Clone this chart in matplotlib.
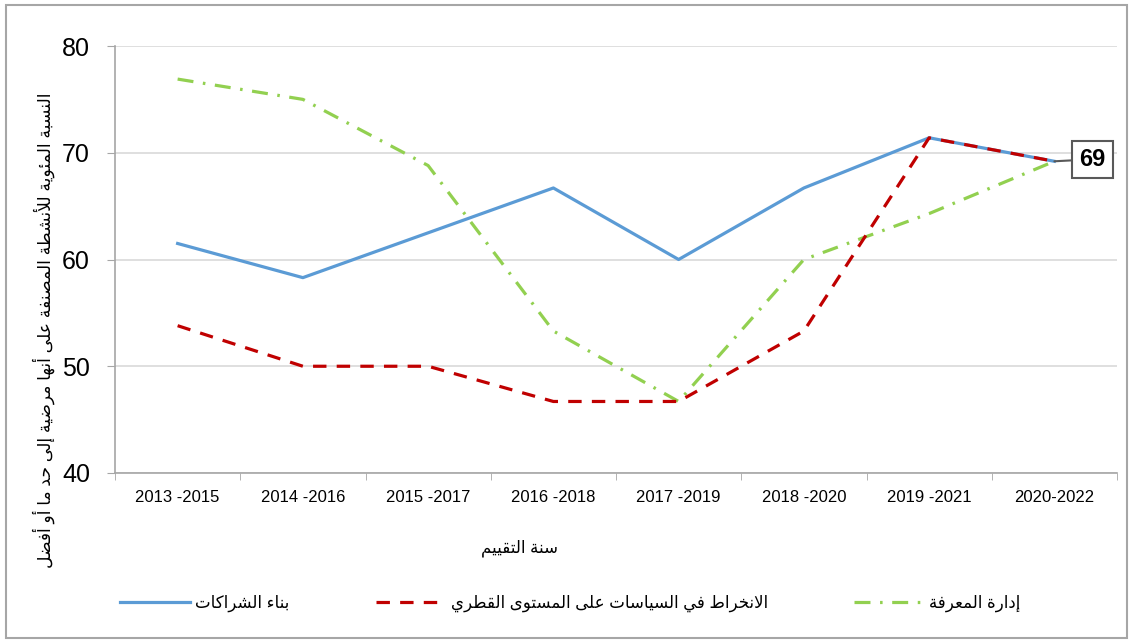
import matplotlib
matplotlib.use("Agg")
import matplotlib.pyplot as plt
import numpy as np

# Data
periods = ["2013 -2015", "2014 -2016", "2015 -2017", "2016 -2018",
           "2017 -2019", "2018 -2020", "2019 -2021", "2020-2022"]
partnerships = [61.5, 58.3, 62.5, 66.7, 60.0, 66.7, 71.4, 69.2]
policy = [53.8, 50.0, 50.0, 46.7, 46.7, 53.3, 71.4, 69.2]
knowledge = [76.9, 75.0, 68.8, 53.3, 46.7, 60.0, 64.3, 69.2]
series_names = ["بناء الشراكات",
                "الانخراط في السياسات على المستوى القطري",
                "إدارة المعرفة"]
y_title = "النسبة المئوية للأنشطة المصنفة على أنها مرضية إلى حد ما أو أفضل"
x_title = "سنة التقييم"
last_label = "69"

FONT = ["Liberation Sans", "DejaVu Sans"]

# matplotlib has no Arabic shaping: map letters to presentation forms and reverse
_FORMS = {
    "\u0621": (0xFE80, 1), "\u0622": (0xFE81, 2), "\u0623": (0xFE83, 2),
    "\u0624": (0xFE85, 2), "\u0625": (0xFE87, 2), "\u0626": (0xFE89, 4),
    "\u0627": (0xFE8D, 2), "\u0628": (0xFE8F, 4), "\u0629": (0xFE93, 2),
    "\u062A": (0xFE95, 4), "\u062B": (0xFE99, 4), "\u062C": (0xFE9D, 4),
    "\u062D": (0xFEA1, 4), "\u062E": (0xFEA5, 4), "\u062F": (0xFEA9, 2),
    "\u0630": (0xFEAB, 2), "\u0631": (0xFEAD, 2), "\u0632": (0xFEAF, 2),
    "\u0633": (0xFEB1, 4), "\u0634": (0xFEB5, 4), "\u0635": (0xFEB9, 4),
    "\u0636": (0xFEBD, 4), "\u0637": (0xFEC1, 4), "\u0638": (0xFEC5, 4),
    "\u0639": (0xFEC9, 4), "\u063A": (0xFECD, 4), "\u0641": (0xFED1, 4),
    "\u0642": (0xFED5, 4), "\u0643": (0xFED9, 4), "\u0644": (0xFEDD, 4),
    "\u0645": (0xFEE1, 4), "\u0646": (0xFEE5, 4), "\u0647": (0xFEE9, 4),
    "\u0648": (0xFEED, 2), "\u0649": (0xFEEF, 2), "\u064A": (0xFEF1, 4),
}
_LAM_ALEF = {"\u0622": 0xFEF5, "\u0623": 0xFEF7, "\u0625": 0xFEF9, "\u0627": 0xFEFB}


def ar(text):
    toks = []
    i = 0
    while i < len(text):
        ch = text[i]
        if ch == "\u0644" and i + 1 < len(text) and text[i + 1] in _LAM_ALEF:
            toks.append((_LAM_ALEF[text[i + 1]], 2))
            i += 2
            continue
        if ch in _FORMS:
            toks.append(_FORMS[ch])
        else:
            toks.append((ord(ch), 0))
        i += 1
    out = []
    for k, (b, n) in enumerate(toks):
        if n == 0:
            out.append(chr(b))
            continue
        prev_j = n >= 2 and k > 0 and toks[k - 1][1] == 4
        next_j = n == 4 and k + 1 < len(toks) and toks[k + 1][1] >= 2
        if n == 1:
            code = b
        elif prev_j and next_j:
            code = b + 3
        elif prev_j:
            code = b + 1
        elif next_j:
            code = b + 2
        else:
            code = b
        out.append(chr(code))
    return "".join(out)[::-1]


fig = plt.figure(figsize=(11.29, 6.43), dpi=100)
ax = fig.add_axes([115 / 1129, 1 - 473 / 643, 1002 / 1129, 427 / 643])

x = np.arange(len(periods))
lw = 2.3
ax.plot(x, partnerships, color="#5B9BD5", lw=lw, label=ar(series_names[0]),
        solid_joinstyle="round", zorder=3)
ax.plot(x, policy, color="#C00000", lw=lw, linestyle=(0, (4.2, 3.2)),
        label=ar(series_names[1]), zorder=4)
ax.plot(x, knowledge, color="#92D050", lw=lw, linestyle=(0, (5.0, 3.0, 0.8, 3.0)),
        label=ar(series_names[2]), zorder=2)

ax.set_xlim(-0.5, len(periods) - 0.5)
ax.set_ylim(40, 80)
ax.set_yticks([40, 50, 60, 70, 80])
ax.set_xticks(x)
ax.set_xticklabels(periods, fontsize=12, family=FONT)
ax.set_xticks(np.arange(-0.5, len(periods)), minor=True)
ax.tick_params(axis="x", which="major", length=0, pad=12, colors="#000000")
ax.tick_params(axis="x", which="minor", length=5, color="#A6A6A6")
ax.tick_params(axis="y", length=6, color="#A6A6A6", pad=12, labelsize=18)
for t in ax.get_yticklabels():
    t.set_family(FONT)

ax.grid(axis="y", color="#D9D9D9", lw=1.2)
ax.set_axisbelow(True)
for s in ["top", "right"]:
    ax.spines[s].set_visible(False)
for s in ["left", "bottom"]:
    ax.spines[s].set_color("#A6A6A6")
    ax.spines[s].set_linewidth(1.2)

ax.set_ylabel(ar(y_title), fontsize=12.3, family=FONT, va="center")
ax.yaxis.set_label_coords(-0.071, 0.335)
ax.set_xlabel(ar(x_title), fontsize=12, family=FONT, va="center")
ax.xaxis.set_label_coords(0.404, -0.176)

ax.annotate(last_label, xy=(x[-1], partnerships[-1]), xytext=(38, 2),
            textcoords="offset pixels", ha="center", va="center",
            fontsize=17, fontweight="bold", family=FONT, annotation_clip=False,
            bbox=dict(boxstyle="square,pad=0.3", fc="white", ec="#595959", lw=1.5),
            arrowprops=dict(arrowstyle="-", color="#595959", lw=1.5,
                            shrinkA=0, shrinkB=0), zorder=6)

fig.legend(loc="center", bbox_to_anchor=(0.505, 1 - 603 / 643), ncol=3, frameon=False,
           handlelength=4.2, columnspacing=5.2, handletextpad=0.3,
           prop={"family": FONT, "size": 12})

fig.add_artist(plt.Rectangle((6 / 1129, 5 / 643), 1121 / 1129, 633 / 643,
                             transform=fig.transFigure, fill=False,
                             ec="#A6A6A6", lw=1.5))

fig.savefig("out.png", dpi=100)
